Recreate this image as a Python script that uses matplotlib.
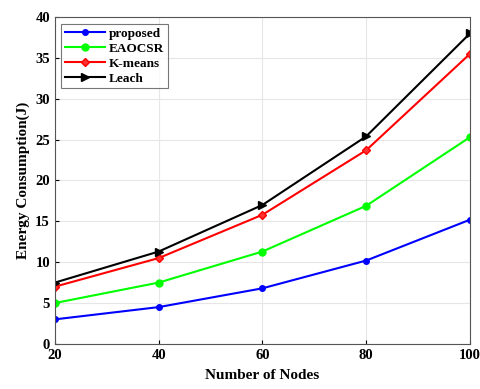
import matplotlib
matplotlib.use("Agg")
import matplotlib.pyplot as plt

nodes = [20, 40, 60, 80, 100]
proposed = [3.0, 4.5, 6.8, 10.2, 15.2]
eaocsr = [5.0, 7.5, 11.3, 16.9, 25.3]
kmeans = [7.0, 10.5, 15.8, 23.7, 35.5]
leach = [7.5, 11.3, 17.0, 25.4, 38.0]

plt.rcParams["font.family"] = "Liberation Serif"
plt.rcParams["font.weight"] = "bold"

fig = plt.figure(figsize=(4.81, 3.89), dpi=100)
ax = fig.add_axes([0.114, 0.116, 0.863, 0.84])

ax.plot(nodes, proposed, "-o", color="blue", lw=1.5, ms=4, label="proposed")
ax.plot(nodes, eaocsr, "-o", color="#00ff00", lw=1.5, ms=5, label="EAOCSR")
ax.plot(nodes, kmeans, "-D", color="red", lw=1.5, ms=4.5, mfc="#ff3030", label="K-means")
ax.plot(nodes, leach, "->", color="black", lw=1.5, ms=5.5, label="Leach")

ax.set_xlim(20, 100)
ax.set_ylim(0, 40)
ax.set_xticks(nodes)
ax.set_yticks(range(0, 41, 5))
ax.grid(True, color="#e6e6e6", lw=0.8)
ax.tick_params(labelsize=10.5, direction="in", length=3)
for s in ax.spines.values():
    s.set_color("#555555")
ax.set_xlabel("Number of Nodes", fontsize=11, fontweight="bold", labelpad=5)
ax.set_ylabel("Energy Consumption(J)", fontsize=11, fontweight="bold")
leg = ax.legend(loc="upper left", fontsize=9.5, frameon=True, fancybox=False,
                edgecolor="#555555", handlelength=3, borderpad=0.3, labelspacing=0.2,
                handletextpad=0.3)
leg.get_frame().set_linewidth(0.8)

fig.savefig("out.png", dpi=100)
